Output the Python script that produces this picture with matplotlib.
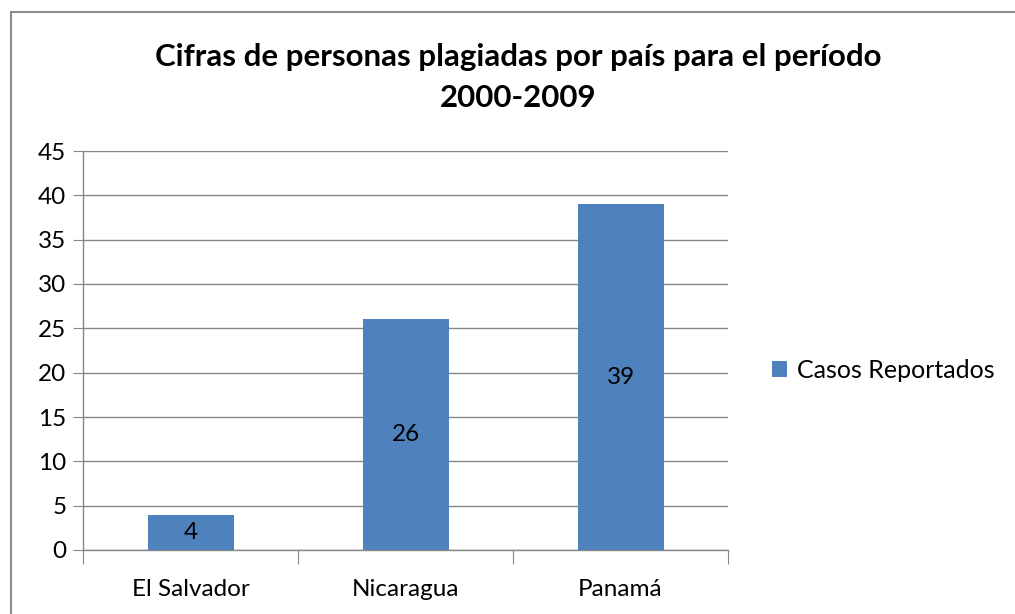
import matplotlib.pyplot as plt
from matplotlib.patches import Rectangle

# chart data
countries = ['El Salvador', 'Nicaragua', 'Panamá']
cases = [4, 26, 39]
series_name = 'Casos Reportados'
yticks = [0, 5, 10, 15, 20, 25, 30, 35, 40, 45]

plt.rcParams['font.family'] = ['Lato', 'DejaVu Sans']

W, H = 1015, 614
fig = plt.figure(figsize=(W / 100, H / 100), dpi=100)

# outer chart frame (right and bottom edges fall outside the image)
fig.patches.append(Rectangle((11 / W, 0 - 0.05), 1.2, (H - 12) / H + 0.05,
                             transform=fig.transFigure, fill=False,
                             edgecolor='#8c8c8c', linewidth=1.5))

# plot area
left, right, top, bottom = 83, 728, 151, 550
ax = fig.add_axes([left / W, 1 - bottom / H, (right - left) / W, (bottom - top) / H])

x = list(range(len(countries)))
bars = ax.bar(x, cases, width=0.4, color='#4F81BD', zorder=3, label=series_name)

ax.set_xlim(-0.5, len(countries) - 0.5)
ax.set_ylim(0, 45)
ax.set_yticks(yticks)
ax.yaxis.grid(True, color='#868686', linewidth=1, zorder=0)

for s in ['top', 'right']:
    ax.spines[s].set_visible(False)
for s in ['left', 'bottom']:
    ax.spines[s].set_color('#868686')
    ax.spines[s].set_linewidth(1)

fs = 17.5
ax.tick_params(axis='y', length=7, color='#868686', labelsize=fs, pad=5)
ax.set_xticks([-0.5, 0.5, 1.5, 2.5])
ax.set_xticklabels([])
ax.tick_params(axis='x', which='major', length=10, color='#868686')
ax.set_xticks(x, minor=True)
ax.set_xticklabels(countries, minor=True)
ax.tick_params(axis='x', which='minor', length=0, labelsize=fs, pad=21)

for xi, v in zip(x, cases):
    ax.text(xi, v / 2, str(v), ha='center', va='center', fontsize=fs, zorder=4)

fig.text(518 / W, 1 - 57 / H, 'Cifras de personas plagiadas por país para el período',
         ha='center', va='center', fontsize=22.5, fontweight='bold')
fig.text(518 / W, 1 - 98 / H, '2000-2009',
         ha='center', va='center', fontsize=22.5, fontweight='bold')

ax.legend(loc='center left', bbox_to_anchor=(772 / W, 1 - 370 / H),
          bbox_transform=fig.transFigure, frameon=False, fontsize=18,
          handlelength=0.6, handleheight=0.6, handletextpad=0.4,
          borderpad=0, borderaxespad=0)

fig.savefig('out.png', dpi=100)
